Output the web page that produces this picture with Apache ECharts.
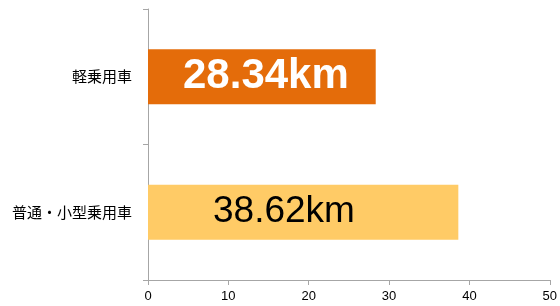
<!DOCTYPE html>
<html>
<head>
<meta charset="utf-8">
<script src="https://cdn.jsdelivr.net/npm/echarts@6/dist/echarts.min.js"></script>
<style>html,body{margin:0;padding:0;background:#fff}#c{width:560px;height:306px}</style>
</head>
<body>
<div id="c"></div>
<script>
var categories = ['軽乗用車', '普通・小型乗用車'];
var values = [28.34, 38.62];
var barLabels = ['28.34km', '38.62km'];
var xTicks = [0, 10, 20, 30, 40, 50];

var chart = echarts.init(document.getElementById('c'));
var axisGray = '#A6A6A6';
chart.setOption({
  animation: false,
  grid: {left: 148, right: 6, top: 9, bottom: 26, containLabel: false},
  xAxis: {
    type: 'value', min: xTicks[0], max: xTicks[xTicks.length - 1], interval: 10,
    splitLine: {show: false},
    axisLine: {show: true, lineStyle: {color: axisGray, width: 1}},
    axisTick: {show: true, length: 5, lineStyle: {color: axisGray}},
    axisLabel: {color: '#000', fontSize: 13, margin: 10, fontFamily: 'Liberation Sans, Arial, sans-serif'}
  },
  yAxis: {
    type: 'category', data: categories, inverse: true,
    axisLine: {show: true, lineStyle: {color: axisGray, width: 1}},
    axisTick: {show: true, length: 5, lineStyle: {color: axisGray}},
    axisLabel: {color: '#000', fontSize: 15, margin: 16, fontFamily: 'Noto Sans CJK JP, sans-serif'}
  },
  series: [{
    type: 'bar',
    barWidth: 55,
    data: [
      {value: values[0], itemStyle: {color: '#E46C0A'},
       label: {show: true, formatter: barLabels[0], position: [35, '50%'], verticalAlign: 'middle',
               color: '#fff', fontWeight: 'bold', fontSize: 42, fontFamily: 'Liberation Sans, Arial, sans-serif'}},
      {value: values[1], itemStyle: {color: '#FFCB66'},
       label: {show: true, formatter: barLabels[1], position: [65, '50%'], verticalAlign: 'middle',
               color: '#000', fontWeight: 'normal', fontSize: 37, fontFamily: 'Liberation Sans, Arial, sans-serif'}}
    ]
  }]
});
</script>
</body>
</html>
